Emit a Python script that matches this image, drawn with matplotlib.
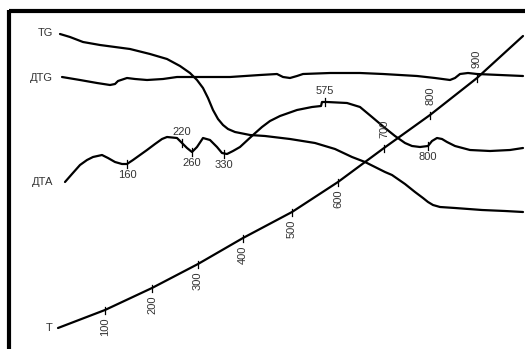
import matplotlib
matplotlib.use("Agg")
import matplotlib.pyplot as plt

plt.rcParams['font.family'] = ['Liberation Sans', 'DejaVu Sans']

# Thermogram traces on the chart's drawing grid (x to the right, y downward)
tg_x = [60, 70, 83, 100, 130, 150, 167, 180, 190, 197, 203, 208, 213, 218, 223, 228, 235, 250, 265,
        290, 315, 335, 352, 365, 375, 385, 392, 405, 415, 423, 428, 433, 440, 455, 482, 505, 523]
tg_y = [34, 37, 42, 45, 49, 54, 59, 66, 73, 80, 88, 98, 110, 119, 125, 129, 132, 135, 136,
        139, 143, 149, 157, 162, 167, 172, 175, 184, 192, 198, 202, 205, 207, 208, 210, 211, 212]

dtg_x = [62, 80, 97, 110, 115, 118, 127, 135, 147, 163, 177, 195, 230, 260, 277, 283, 290, 297, 303,
         330, 360, 383, 400, 417, 435, 450, 455, 460, 468, 477, 500, 523]
dtg_y = [77, 80, 83, 85, 84, 81, 78, 79, 80, 79, 77, 77, 77, 75, 74, 77, 78, 76, 74,
         73, 73, 74, 75, 76, 78, 80, 78, 74, 73, 74, 75, 76]

dta_x = [65, 72, 80, 87, 93, 102, 108, 115, 122, 127, 133, 140, 147, 155, 162, 167, 177, 182, 187,
         192, 197, 203, 210, 217, 222, 227, 233, 240, 253, 262, 270, 280, 297, 312, 321, 322, 327,
         347, 360, 372, 385, 395, 405, 412, 420, 428, 432, 437, 442, 447, 455, 470, 490, 510, 523]
dta_y = [182, 174, 165, 160, 157, 155, 158, 162, 164, 164, 160, 155, 150, 144, 139, 137, 138, 143, 148,
         152, 147, 138, 140, 147, 153, 154, 151, 147, 135, 127, 121, 116, 110, 107, 106, 102, 102,
         103, 107, 117, 128, 136, 143, 146, 147, 146, 141, 138, 139, 142, 146, 150, 151, 150, 148]

t_x = [58, 105, 152, 198, 243, 292, 338, 384, 430, 477, 523]
t_y = [328, 310, 288, 264, 238, 212, 182, 148, 115, 78, 36]

# Temperature marks along the T trace
t_marks = ["100", "200", "300", "400", "500", "600", "700", "800", "900"]
t_mark_x = [105, 152, 198, 243, 292, 338, 384, 430, 477]
t_mark_y = [310, 288, 264, 238, 212, 182, 148, 115, 78]

# Peak marks on the DTA trace
dta_marks = ["160", "220", "260", "330", "575", "800"]
dta_mark_x = [127, 182, 192, 224, 325, 428]
dta_mark_y = [164, 143, 152, 154, 102, 146]
dta_mark_side = ["below", "above", "below", "below", "above", "below"]

curve_names = ["TG", "ДTG", "ДТА", "T"]
curve_name_y = [33, 78, 182, 328]

fig = plt.figure(figsize=(5.30, 3.49), dpi=100)
ax = fig.add_axes([0, 0, 1, 1])
ax.set_xlim(0, 530)
ax.set_ylim(349, 0)
ax.axis("off")

lw = 1.6
for xs, ys in [(tg_x, tg_y), (dtg_x, dtg_y), (dta_x, dta_y), (t_x, t_y)]:
    ax.plot(xs, ys, color="black", lw=lw, solid_joinstyle="round", solid_capstyle="round")

txt = dict(color="#333333", fontsize=8)

# T scale marks
for lab, x, y in zip(t_marks, t_mark_x, t_mark_y):
    ax.plot([x, x], [y - 3.5, y + 3.5], color="black", lw=0.9)
    if int(lab) >= 700:
        ax.text(x, y - 10, lab, rotation=90, ha="center", va="bottom", **txt)
    else:
        ax.text(x, y + 8, lab, rotation=90, ha="center", va="top", **txt)

# DTA peak marks
for lab, x, y, side in zip(dta_marks, dta_mark_x, dta_mark_y, dta_mark_side):
    ax.plot([x, x], [y - 4, y + 4], color="black", lw=0.9)
    if side == "above":
        ax.text(x, y - 6, lab, ha="center", va="bottom", **txt)
    else:
        ax.text(x, y + 6, lab, ha="center", va="top", **txt)

for name, y in zip(curve_names, curve_name_y):
    ax.text(53, y, name, ha="right", va="center", **txt)

# Frame along the top and left edges
ax.plot([9, 525], [11, 11], color="black", lw=3, solid_capstyle="butt")
ax.plot([9, 9], [9.5, 349], color="black", lw=3, solid_capstyle="butt")

fig.savefig("out.png", dpi=100)
